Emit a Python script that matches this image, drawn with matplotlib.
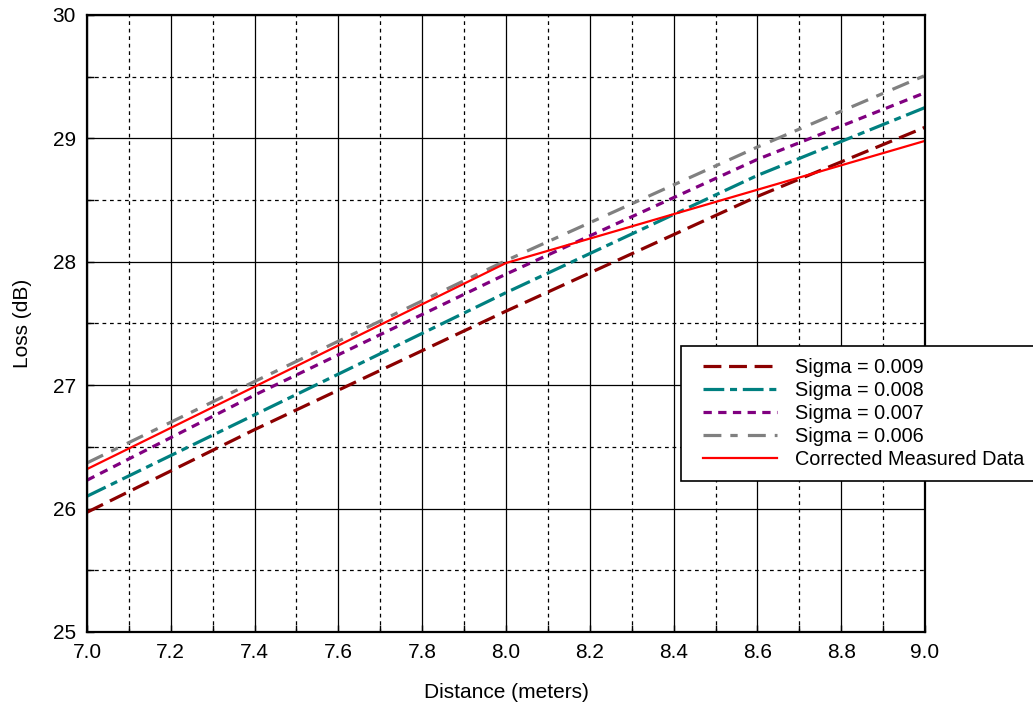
import numpy as np
import matplotlib
matplotlib.use("Agg")
import matplotlib.pyplot as plt
from matplotlib.ticker import MultipleLocator, FormatStrFormatter
from matplotlib.legend_handler import HandlerLine2D

plt.rcParams['font.family'] = ['Liberation Sans', 'DejaVu Sans']

# --- data ---
dist = [7.0, 7.4, 8.0, 8.6, 9.0]
sigma_009 = [25.97, 26.64, 27.60, 28.53, 29.09]
sigma_008 = [26.10, 26.76, 27.75, 28.70, 29.25]
sigma_007 = [26.23, 26.92, 27.90, 28.83, 29.37]
sigma_006 = [26.37, 27.03, 28.01, 28.93, 29.51]

meas_dist = [7.0, 8.0, 9.0]
meas_loss = [26.32, 27.99, 28.98]

labels = ['Sigma = 0.009', 'Sigma = 0.008', 'Sigma = 0.007', 'Sigma = 0.006',
          'Corrected Measured Data']

fs = 15
fig = plt.figure(figsize=(10.33, 7.07), dpi=100)
ax = fig.add_axes([0.0842, 0.1061, 0.8113, 0.8727])

lw = 2.3
l1, = ax.plot(dist, sigma_009, color='#8b0000', lw=lw, dashes=(5.6, 2.4))
l2, = ax.plot(dist, sigma_008, color='#008080', lw=lw, dashes=(6.5, 1.8, 2.2, 1.8))
l3, = ax.plot(dist, sigma_007, color='#800080', lw=lw, dashes=(2.6, 2.0))
l4, = ax.plot(dist, sigma_006, color='#808080', lw=lw, dashes=(5.6, 2.8, 2.3, 3.2))
l5, = ax.plot(meas_dist, meas_loss, color='red', lw=1.6)

ax.set_xlim(7, 9)
ax.set_ylim(25, 30)
ax.xaxis.set_major_locator(MultipleLocator(0.2))
ax.xaxis.set_minor_locator(MultipleLocator(0.1))
ax.yaxis.set_major_locator(MultipleLocator(1))
ax.yaxis.set_minor_locator(MultipleLocator(0.5))
ax.xaxis.set_major_formatter(FormatStrFormatter('%.1f'))

ax.grid(which='major', color='black', lw=0.9, ls='-', zorder=0)
ax.grid(which='minor', color='black', lw=0.9, dashes=(3, 3), zorder=0)
ax.set_axisbelow(True)

ax.tick_params(which='both', direction='in', length=5, width=1, labelsize=fs, pad=8)
for s in ax.spines.values():
    s.set_linewidth(1.6)
    s.set_color('black')

ax.set_xlabel('Distance (meters)', fontsize=fs, labelpad=15)
ax.set_ylabel('Loss (dB)', fontsize=fs, labelpad=15)

# legend sits half outside the axes, its right edge runs past the figure
lfs = 14.3
hmap = {l: HandlerLine2D(xpad=0.5) for l in [l1, l2, l3, l4, l5]}
leg = ax.legend([l1, l2, l3, l4, l5], labels, loc='upper left',
                bbox_to_anchor=(0.709, 0.464), fontsize=lfs, frameon=True,
                fancybox=False, edgecolor='black', framealpha=1,
                labelspacing=0.21, handlelength=4.2, handletextpad=0.95,
                borderpad=0.6, borderaxespad=0, handler_map=hmap)
leg.get_frame().set_linewidth(1.2)
leg.set_clip_on(False)

fig.savefig('out.png', dpi=100)
